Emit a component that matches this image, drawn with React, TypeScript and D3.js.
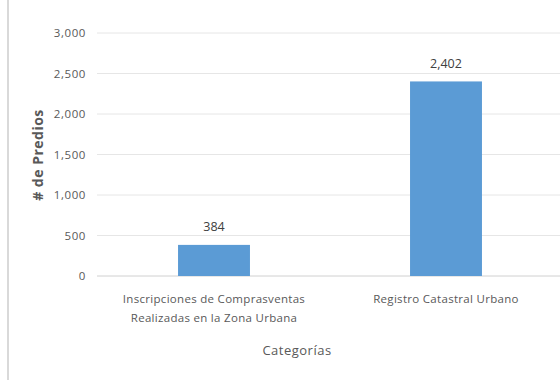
import React from "react";
import * as d3 from "d3";

const categories: string[][] = [
  ["Inscripciones de Comprasventas", "Realizadas en la Zona Urbana"],
  ["Registro Catastral Urbano"],
];
const values: number[] = [384, 2402];
const yTicks: number[] = [0, 500, 1000, 1500, 2000, 2500, 3000];
const yTitle = "# de Predios";
const xTitle = "Categorías";

const W = 560;
const H = 380;
const FONT = "'Open Sans', 'Liberation Sans', sans-serif";
const TXT = "#595959";

export default function App() {
  const y = d3.scaleLinear().domain([0, 3000]).range([276, 33]);
  const x = d3
    .scaleBand<number>()
    .domain(values.map((_, i) => i))
    .range([98, 562])
    .padding(0);
  const bw = x.bandwidth() * 0.31;
  const fmt = d3.format(",");

  return (
    <svg
      width={W}
      height={H}
      style={{ position: "absolute", left: 0, top: 0, background: "#fff" }}
      fontFamily={FONT}
    >
      <rect x={0} y={0} width={W} height={H} fill="#fff" />
      <line x1={8} x2={8} y1={0} y2={H} stroke="#d9d9d9" strokeWidth={2} />
      {yTicks.map((t) => (
        <g key={t}>
          <line
            x1={97}
            x2={W}
            y1={y(t)}
            y2={y(t)}
            stroke={t === 0 ? "#d0d0d0" : "#e6e6e6"}
            strokeWidth={1}
          />
          <text
            x={86}
            y={y(t)}
            dy="0.35em"
            textAnchor="end"
            fontSize={11.5}
            letterSpacing={0.6}
            fill={TXT}
          >
            {fmt(t)}
          </text>
        </g>
      ))}
      {values.map((v, i) => {
        const cx = (x(i) as number) + x.bandwidth() / 2;
        return (
          <g key={i}>
            <rect
              x={cx - bw / 2}
              y={y(v)}
              width={bw}
              height={y(0) - y(v)}
              fill="#5b9bd5"
            />
            <text
              x={cx}
              y={y(v) - 18}
              dy="0.35em"
              textAnchor="middle"
              fontSize={12.5}
              fill="#404040"
            >
              {fmt(v)}
            </text>
            {categories[i].map((line, j) => (
              <text
                key={j}
                x={cx}
                y={299 + j * 19}
                dy="0.35em"
                textAnchor="middle"
                fontSize={11.5}
                letterSpacing={0.3}
                fill={TXT}
              >
                {line}
              </text>
            ))}
          </g>
        );
      })}
      <text
        x={297}
        y={350}
        dy="0.35em"
        textAnchor="middle"
        fontSize={13}
        letterSpacing={0.5}
        fill={TXT}
      >
        {xTitle}
      </text>
      <text
        transform={`translate(38,155) rotate(-90)`}
        dy="0.35em"
        textAnchor="middle"
        fontSize={14}
        letterSpacing={0.5}
        fontWeight="bold"
        fill={TXT}
      >
        {yTitle}
      </text>
    </svg>
  );
}
